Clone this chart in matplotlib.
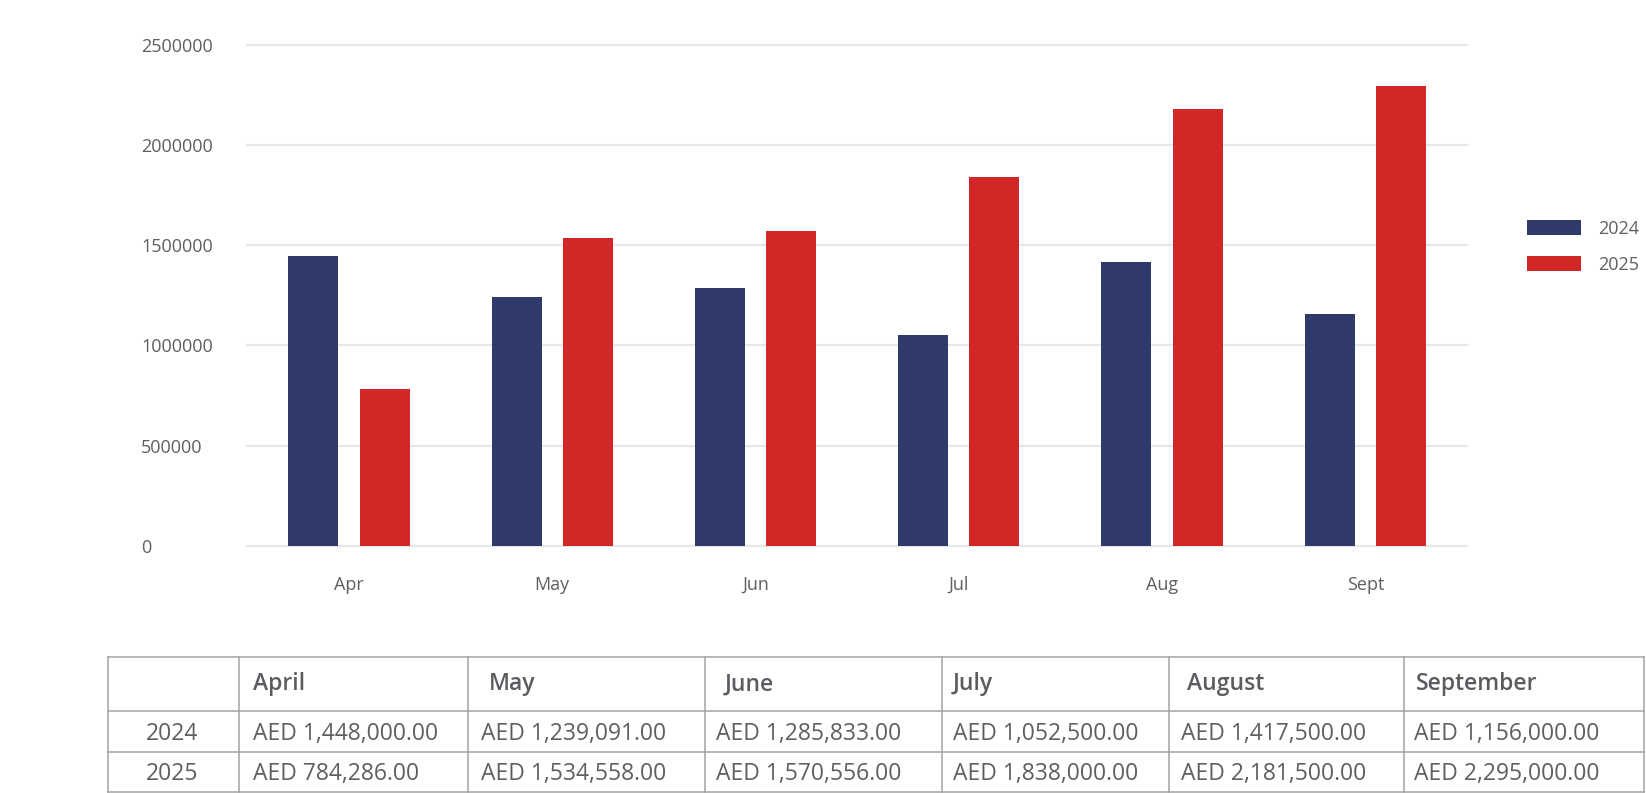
import matplotlib
matplotlib.use('Agg')
import matplotlib.pyplot as plt
import numpy as np

plt.rcParams['font.family'] = ['Open Sans', 'DejaVu Sans']

# Datos
meses = ['Apr', 'May', 'Jun', 'Jul', 'Aug', 'Sept']
meses_largos = ['April', 'May', 'June', 'July', 'August', 'September']
anios = ['2024', '2025']
ventas_2024 = [1448000.00, 1239091.00, 1285833.00, 1052500.00, 1417500.00, 1156000.00]
ventas_2025 = [784286.00, 1534558.00, 1570556.00, 1838000.00, 2181500.00, 2295000.00]
yticks = [0, 500000, 1000000, 1500000, 2000000, 2500000]

AZUL = '#2f3a6b'
ROJO = '#d32627'
GRIS_TXT = '#5f5f5f'
GRIS_GRID = '#e6e7e8'

W, H = 1646, 793
fig = plt.figure(figsize=(W / 100, H / 100), dpi=100)

# Gráfico de barras
ax = fig.add_axes([247.3 / W, 1 - 545.7 / H, (1467 - 247.3) / W, (545.7 - 44.7) / H])
x = np.arange(len(meses))
ancho = 0.246
desp = 0.1756
ax.bar(x - desp, ventas_2024, ancho, color=AZUL, label=anios[0], zorder=3)
ax.bar(x + desp, ventas_2025, ancho, color=ROJO, label=anios[1], zorder=3)
ax.set_xlim(-0.5, len(meses) - 0.5)
ax.set_ylim(0, 2500000)
ax.set_yticks(yticks)
ax.set_yticklabels([str(v) for v in yticks])
ax.set_xticks(x)
ax.set_xticklabels(meses)
ax.yaxis.grid(True, color=GRIS_GRID, linewidth=1.6, zorder=0)
for gl in ax.get_ygridlines():
    gl.set_clip_on(False)
ax.set_axisbelow(True)
for s in ax.spines.values():
    s.set_visible(False)
ax.tick_params(axis='both', length=0, labelsize=13, labelcolor=GRIS_TXT)
ax.tick_params(axis='y', pad=76.5)
ax.tick_params(axis='x', pad=22)
for lbl in ax.get_yticklabels():
    lbl.set_horizontalalignment('left')

ax.legend(loc='upper left', bbox_to_anchor=(1526.7 / W, 1 - 220 / H),
          bbox_transform=fig.transFigure, frameon=False, fontsize=13,
          handlelength=3.0, handleheight=0.9, handletextpad=0.95,
          labelspacing=1.0, borderpad=0, borderaxespad=0, labelcolor=GRIS_TXT)

# Tabla
tab = fig.add_axes([0, 0, 1, 1])
tab.set_xlim(0, W)
tab.set_ylim(H, 0)
tab.axis('off')
cols = [108.1, 239.3, 468.2, 705.4, 941.6, 1169.4, 1404.5, 1643.8]
filas = [657.3, 711.0, 752.3, 791.7]
pad_head = [13.7, 21, 19, 10.6, 18, 11.5]
pad_dato = [13.7, 12.6, 10.6, 11.6, 11.6, 9.5]
GRIS_LIN = '#a3a3a3'
for c in cols:
    tab.plot([c, c], [filas[0], filas[-1]], color=GRIS_LIN, lw=1.1)
for f in filas:
    tab.plot([cols[0], cols[-1]], [f, f], color=GRIS_LIN, lw=1.1)

yc = [(filas[i] + filas[i + 1]) / 2 for i in range(3)]
for i, m in enumerate(meses_largos):
    tab.text(cols[i + 1] + pad_head[i], yc[0], m, ha='left', va='center',
             fontsize=16.5, fontweight='semibold', color='#5a5c60')
for r, (anio, serie) in enumerate(zip(anios, [ventas_2024, ventas_2025])):
    tab.text((cols[0] + cols[1]) / 2 - 2, yc[r + 1] + 2, anio, ha='center',
             va='center', fontsize=16.5, color=GRIS_TXT)
    for i, v in enumerate(serie):
        tab.text(cols[i + 1] + pad_dato[i], yc[r + 1] + 2, f'AED {v:,.2f}',
                 ha='left', va='center', fontsize=16.5, color=GRIS_TXT)

fig.savefig('out.png', dpi=100, facecolor='white')
